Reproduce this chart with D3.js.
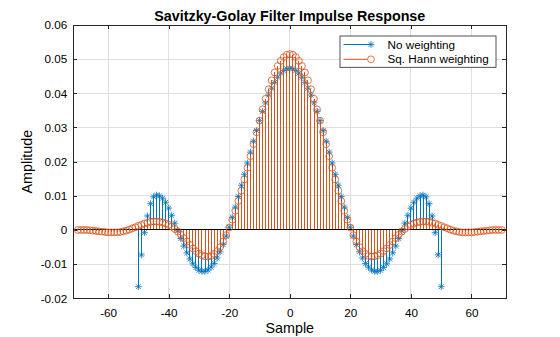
<!DOCTYPE html>
<html>
<head>
<meta charset="utf-8">
<script src="https://cdn.jsdelivr.net/npm/d3@7"></script>
<style>
  html, body { margin: 0; padding: 0; background: #ffffff; }
  svg { display: block; }
  text { font-family: "Liberation Sans", Arial, Helvetica, sans-serif; }
</style>
</head>
<body>
<div id="chart"></div>
<script>
// ---------------- data ----------------
const chartTitle = "Savitzky-Golay Filter Impulse Response";
const xLabel = "Sample";
const yLabel = "Amplitude";
const seriesNames = ["No weighting", "Sq. Hann weighting"];

const xTicks = [-60, -40, -20, 0, 20, 40, 60];
const yTicks = [-0.02, -0.01, 0, 0.01, 0.02, 0.03, 0.04, 0.05, 0.06];
const xDomain = [-71.5, 71.5];
const yDomain = [-0.02, 0.06];

// samples -50 .. 50
const samplesNoWeight = d3.range(-50, 51);
const noWeighting = [
  -0.0166, -0.0073, -0.0008, 0.0041, 0.0077, 0.0097, 0.0102, 0.0100, 0.0093, 0.0081,
   0.0064,  0.0043,  0.0020, -0.0002, -0.0025, -0.0047, -0.0067, -0.0085, -0.0099, -0.0110,
  -0.0118, -0.0121, -0.0121, -0.0117, -0.0109, -0.0098, -0.0082, -0.0064, -0.0043, -0.0018,
   0.0008,  0.0037,  0.0067,  0.0098,  0.0131,  0.0163,  0.0196,  0.0228,  0.0260,  0.0291,
   0.0320,  0.0347,  0.0372,  0.0395,  0.0415,  0.0432,  0.0447,  0.0459,  0.0467,  0.0472,
   0.0473,
   0.0472,  0.0467,  0.0459,  0.0447,  0.0432,  0.0415,  0.0395,  0.0372,  0.0347,  0.0320,
   0.0291,  0.0260,  0.0228,  0.0196,  0.0163,  0.0131,  0.0098,  0.0067,  0.0037,  0.0008,
  -0.0018, -0.0043, -0.0064, -0.0082, -0.0098, -0.0109, -0.0117, -0.0121, -0.0121, -0.0118,
  -0.0110, -0.0099, -0.0085, -0.0067, -0.0047, -0.0025, -0.0002,  0.0020,  0.0043,  0.0064,
   0.0081,  0.0093,  0.0100,  0.0102,  0.0097,  0.0077,  0.0041, -0.0008, -0.0073, -0.0166
];

// samples -70 .. 70
const samplesHann = d3.range(-70, 71);
const sqHannWeighting = [
   0.0000,  0.0000,  0.0000,  0.0000, -0.0001, -0.0002, -0.0003, -0.0004, -0.0005, -0.0006,
  -0.0007, -0.0007, -0.0007, -0.0007, -0.0006, -0.0004, -0.0002,  0.0001,  0.0005,  0.0008,
   0.0012,  0.0015,  0.0019,  0.0021,  0.0024,  0.0025,  0.0025,  0.0024,  0.0022,  0.0019,
   0.0015,  0.0010,  0.0003, -0.0005, -0.0014, -0.0024, -0.0034, -0.0044, -0.0054, -0.0062,
  -0.0069, -0.0074, -0.0077, -0.0078, -0.0076, -0.0070, -0.0062, -0.0050, -0.0034, -0.0015,
   0.0007,  0.0030,  0.0056,  0.0085,  0.0115,  0.0148,  0.0182,  0.0216,  0.0251,  0.0286,
   0.0320,  0.0353,  0.0384,  0.0412,  0.0438,  0.0461,  0.0480,  0.0495,  0.0506,  0.0513,
   0.0515,
   0.0513,  0.0506,  0.0495,  0.0480,  0.0461,  0.0438,  0.0412,  0.0384,  0.0353,  0.0320,
   0.0286,  0.0251,  0.0216,  0.0182,  0.0148,  0.0115,  0.0085,  0.0056,  0.0030,  0.0007,
  -0.0015, -0.0034, -0.0050, -0.0062, -0.0070, -0.0076, -0.0078, -0.0077, -0.0074, -0.0069,
  -0.0062, -0.0054, -0.0044, -0.0034, -0.0024, -0.0014, -0.0005,  0.0003,  0.0010,  0.0015,
   0.0019,  0.0022,  0.0024,  0.0025,  0.0025,  0.0024,  0.0021,  0.0019,  0.0015,  0.0012,
   0.0008,  0.0005,  0.0001, -0.0002, -0.0004, -0.0006, -0.0007, -0.0007, -0.0007, -0.0007,
  -0.0006, -0.0005, -0.0004, -0.0003, -0.0002, -0.0001,  0.0000,  0.0000,  0.0000,  0.0000
];

// ---------------- layout ----------------
const W = 560, H = 337;
const L = 73.3, R = 506.3, T = 25, B = 298.3;
const blue = "#0072BD", orange = "#D95319", axisCol = "#262626", gridCol = "#dfdfdf";
const fs = 11.7;

const svg = d3.select("#chart").append("svg").attr("width", W).attr("height", H);
svg.append("rect").attr("width", W).attr("height", H).attr("fill", "#fff");

const x = d3.scaleLinear().domain(xDomain).range([L, R]);
const y = d3.scaleLinear().domain(yDomain).range([B, T]);

// grid
const grid = svg.append("g").attr("shape-rendering", "crispEdges");
grid.selectAll(".gx").data(xTicks).join("line")
  .attr("x1", d => x(d)).attr("x2", d => x(d)).attr("y1", T).attr("y2", B)
  .attr("stroke", gridCol).attr("stroke-width", 1);
grid.selectAll(".gy").data(yTicks).join("line")
  .attr("y1", d => y(d)).attr("y2", d => y(d)).attr("x1", L).attr("x2", R)
  .attr("stroke", gridCol).attr("stroke-width", 1);

// axes
const fmtX = d => String(d);
const fmtY = d => d === 0 ? "0" : d.toFixed(2);
function styleAxis(g) {
  g.selectAll("path.domain").attr("stroke", axisCol);
  g.selectAll(".tick line").attr("stroke", axisCol);
  g.selectAll(".tick text").attr("fill", "#000").style("font-size", fs + "px")
    .style("font-family", '"Liberation Sans", Arial, Helvetica, sans-serif');
  g.attr("shape-rendering", "crispEdges");
}
svg.append("g").attr("transform", `translate(0,${B})`)
  .call(d3.axisBottom(x).tickValues(xTicks).tickFormat(fmtX).tickSizeInner(-4).tickSizeOuter(0).tickPadding(10))
  .call(styleAxis);
svg.append("g").attr("transform", `translate(0,${T})`)
  .call(d3.axisTop(x).tickValues(xTicks).tickFormat("").tickSizeInner(-4).tickSizeOuter(0))
  .call(styleAxis);
svg.append("g").attr("transform", `translate(${L},0)`)
  .call(d3.axisLeft(y).tickValues(yTicks).tickFormat(fmtY).tickSizeInner(-4).tickSizeOuter(0).tickPadding(6))
  .call(styleAxis);
svg.append("g").attr("transform", `translate(${R},0)`)
  .call(d3.axisRight(y).tickValues(yTicks).tickFormat("").tickSizeInner(-4).tickSizeOuter(0))
  .call(styleAxis);

// asterisk marker path
function asterisk(s) {
  const a = s * 0.72;
  return `M${-s},0H${s}M0,${-s}V${s}M${-a},${-a}L${a},${a}M${-a},${a}L${a},${-a}`;
}

const plot = svg.append("g");
const y0 = y(0);

// series 1 : no weighting
const d1 = samplesNoWeight.map((n, i) => ({ n, v: noWeighting[i] }));
plot.append("g").attr("shape-rendering", "crispEdges").selectAll("line").data(d1).join("line")
  .attr("x1", d => x(d.n)).attr("x2", d => x(d.n))
  .attr("y1", y0).attr("y2", d => y(d.v))
  .attr("stroke", blue).attr("stroke-width", 1);
plot.append("g").selectAll("path").data(d1).join("path")
  .attr("transform", d => `translate(${x(d.n)},${y(d.v)})`)
  .attr("d", asterisk(3.4))
  .attr("fill", "none").attr("stroke", blue).attr("stroke-width", 0.8);

// series 2 : squared Hann weighting
const d2 = samplesHann.map((n, i) => ({ n, v: sqHannWeighting[i] }));
plot.append("g").attr("shape-rendering", "crispEdges").selectAll("line").data(d2).join("line")
  .attr("x1", d => x(d.n)).attr("x2", d => x(d.n))
  .attr("y1", y0).attr("y2", d => y(d.v))
  .attr("stroke", orange).attr("stroke-width", 1);

// baseline
plot.append("line").attr("x1", L).attr("x2", R).attr("y1", y0).attr("y2", y0)
  .attr("stroke", "#000").attr("stroke-width", 1).attr("shape-rendering", "crispEdges");

plot.append("g").selectAll("circle").data(d2).join("circle")
  .attr("cx", d => x(d.n)).attr("cy", d => y(d.v)).attr("r", 3.4)
  .attr("fill", "none").attr("stroke", orange).attr("stroke-width", 0.8);

// legend
const lg = svg.append("g");
lg.append("rect").attr("x", 340).attr("y", 36).attr("width", 156).attr("height", 31.3)
  .attr("fill", "#fff").attr("stroke", axisCol).attr("stroke-width", 0.8);
const legendRows = [
  { name: seriesNames[0], color: blue, marker: "star", yy: 44.5 },
  { name: seriesNames[1], color: orange, marker: "circle", yy: 59.3 }
];
legendRows.forEach(r => {
  lg.append("line").attr("x1", 343.5).attr("x2", 371).attr("y1", r.yy).attr("y2", r.yy)
    .attr("stroke", r.color).attr("stroke-width", 1);
  if (r.marker === "star") {
    lg.append("path").attr("transform", `translate(371,${r.yy})`).attr("d", asterisk(3.4))
      .attr("fill", "none").attr("stroke", r.color).attr("stroke-width", 0.8);
  } else {
    lg.append("circle").attr("cx", 371).attr("cy", r.yy).attr("r", 3.4)
      .attr("fill", "#fff").attr("stroke", r.color).attr("stroke-width", 0.8);
  }
  lg.append("text").attr("x", 387.5).attr("y", r.yy + 4.1).text(r.name)
    .style("font-size", fs + "px").attr("fill", "#000");
});

// title & labels
svg.append("text").attr("x", (L + R) / 2).attr("y", 21.2).attr("text-anchor", "middle")
  .style("font-size", "14.3px").style("font-weight", "bold").attr("fill", "#000").text(chartTitle);
svg.append("text").attr("x", (L + R) / 2).attr("y", 332.5).attr("text-anchor", "middle")
  .style("font-size", "14.3px").attr("fill", "#000").text(xLabel);
svg.append("text").attr("transform", `translate(31.5,${(T + B) / 2}) rotate(-90)`)
  .attr("text-anchor", "middle").style("font-size", "14.3px").attr("fill", "#000").text(yLabel);
</script>
</body>
</html>
